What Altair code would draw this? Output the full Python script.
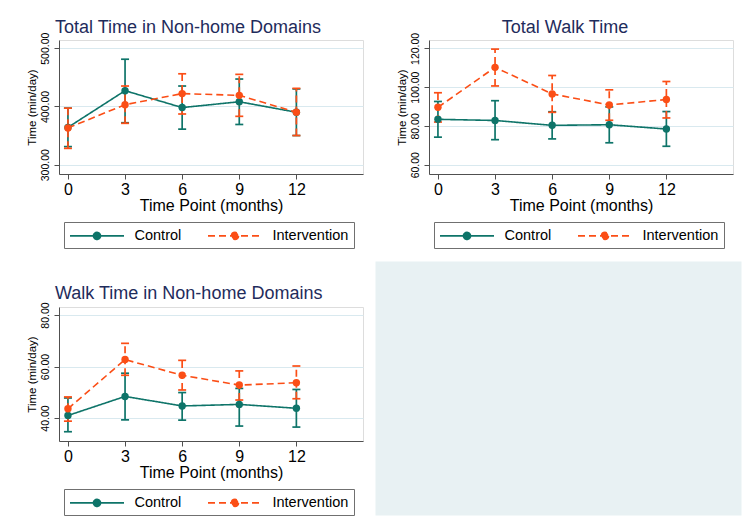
import altair as alt
import pandas as pd

# ---------------- data ----------------
months = [0, 3, 6, 9, 12]
groups = ["Control", "Intervention"]
colors = ["#0e7469", "#fb4e16"]
dashes = [[1, 0], [7, 4]]

titles = ["Total Time in Non-home Domains", "Total Walk Time", "Walk Time in Non-home Domains"]

# Total Time in Non-home Domains
p1_ctrl_mean = [364, 427, 398, 408, 390]
p1_ctrl_lo = [331, 372, 361, 369, 350]
p1_ctrl_hi = [397, 481, 435, 447, 430]
p1_int_mean = [363, 403, 422, 419, 390]
p1_int_lo = [328, 371, 387, 383, 350]
p1_int_hi = [397, 435, 456, 455, 431]
p1_yticks = [300, 400, 500]

# Total Walk Time
p2_ctrl_mean = [83.4, 82.8, 80.3, 80.6, 78.4]
p2_ctrl_lo = [74.2, 72.9, 73.3, 71.3, 69.5]
p2_ctrl_hi = [92.6, 93.0, 87.3, 89.8, 87.4]
p2_int_mean = [89.6, 110.2, 96.5, 90.8, 93.6]
p2_int_lo = [82.0, 100.6, 87.0, 82.9, 84.1]
p2_int_hi = [97.1, 119.6, 106.0, 98.6, 102.9]
p2_yticks = [60, 80, 100, 120]

# Walk Time in Non-home Domains
p3_ctrl_mean = [41.0, 48.4, 44.7, 45.3, 43.8]
p3_ctrl_lo = [34.7, 39.3, 39.2, 36.9, 36.5]
p3_ctrl_hi = [47.8, 57.4, 49.9, 51.5, 51.1]
p3_int_mean = [43.6, 62.7, 56.6, 52.8, 53.7]
p3_int_lo = [38.8, 56.6, 50.9, 47.0, 47.5]
p3_int_hi = [48.2, 69.0, 62.4, 58.3, 60.2]
p3_yticks = [40, 60, 80]

FONT = "Liberation Sans"
TITLE_COLOR = "#1f2c5c"
AXIS_COLOR = "#505050"
GRID_COLOR = "#d9e9ef"
# legend glyph: a line with a dot in the middle (base size 15px; line spans 54px)
LEGEND_SYMBOL = "M-3.6,0H3.6M0.47,0A0.47,0.47,0,1,1,-0.47,0A0.47,0.47,0,1,1,0.47,0Z"


def make_df(cm, cl, ch, im, il, ih):
    rows = []
    for g, m, lo, hi in [("Control", cm, cl, ch), ("Intervention", im, il, ih)]:
        for t, a, b, c in zip(months, m, lo, hi):
            rows.append({"month": t, "group": g, "mean": a, "lo": b, "hi": c})
    return pd.DataFrame(rows)


def panel(df, title, ydomain, yticks):
    xscale = alt.Scale(domain=[-0.47, 15.5], nice=False, zero=False)
    yscale = alt.Scale(domain=ydomain, nice=False, zero=False)
    xaxis = alt.Axis(values=months, title="Time Point (months)", grid=False,
                     labelFontSize=16, titleFontSize=16, labelPadding=2, titlePadding=0,
                     tickSize=5, domainColor=AXIS_COLOR, tickColor=AXIS_COLOR,
                     labelColor="black", titleColor="black", labelFont=FONT, titleFont=FONT,
                     titleFontWeight="normal")
    yaxis = alt.Axis(values=yticks, format=".2f", title="Time (min/day)", grid=True,
                     gridColor=GRID_COLOR, gridWidth=1.2, labelAngle=270, labelFontSize=10.5,
                     titleFontSize=11.5, labelPadding=4, titlePadding=3, tickSize=5,
                     domainColor=AXIS_COLOR, tickColor=AXIS_COLOR, labelColor="black",
                     titleColor="black", labelFont=FONT, titleFont=FONT,
                     titleFontWeight="normal")
    x = alt.X("month:Q", scale=xscale, axis=xaxis)

    def Y(field):
        return alt.Y(field, type="quantitative", scale=yscale, axis=yaxis, title="Time (min/day)")

    layers = []
    for g, col, dsh in zip(groups, colors, dashes):
        base = alt.Chart(df).transform_filter(alt.datum.group == g)
        bars = base.mark_rule(strokeWidth=1.7, color=col, strokeDash=dsh).encode(
            x=x, y=Y("lo"), y2="hi:Q")
        caps_lo = base.mark_tick(orient="horizontal", size=8, thickness=1.7, opacity=1,
                                 color=col).encode(x=x, y=Y("lo"))
        caps_hi = base.mark_tick(orient="horizontal", size=8, thickness=1.7, opacity=1,
                                 color=col).encode(x=x, y=Y("hi"))
        layers += [bars, caps_lo, caps_hi]
    for g, col, dsh in zip(groups, colors, dashes):
        base = alt.Chart(df).transform_filter(alt.datum.group == g)
        line = base.mark_line(strokeWidth=1.6, color=col, strokeDash=dsh).encode(
            x=x, y=Y("mean"))
        pts = base.mark_circle(size=55, opacity=1, color=col).encode(x=x, y=Y("mean"))
        layers += [line, pts]

    legend = alt.Legend(orient="none", legendX=5, legendY=182, direction="horizontal",
                        title=None, symbolType=LEGEND_SYMBOL, symbolSize=225,
                        symbolOffset=19.5, symbolStrokeWidth=1.6, labelFontSize=14.5,
                        labelFont=FONT, labelColor="black", labelOffset=29, columnPadding=22,
                        padding=5, strokeColor="#707070", fillColor="white")
    leg_df = pd.DataFrame({"group": groups, "none": [None, None], "month": [None, None]})
    leg = alt.Chart(leg_df).mark_point(filled=True, opacity=1, shape=LEGEND_SYMBOL).encode(
        x=x, y=Y("none"),
        color=alt.Color("group:N", scale=alt.Scale(domain=groups, range=colors), legend=legend),
        stroke=alt.Stroke("group:N", scale=alt.Scale(domain=groups, range=colors), legend=legend),
        strokeDash=alt.StrokeDash("group:N", scale=alt.Scale(domain=groups, range=dashes),
                                  legend=legend))
    layers.append(leg)

    return alt.layer(*layers).properties(width=304, height=134, title=title)


df1 = make_df(p1_ctrl_mean, p1_ctrl_lo, p1_ctrl_hi, p1_int_mean, p1_int_lo, p1_int_hi)
df2 = make_df(p2_ctrl_mean, p2_ctrl_lo, p2_ctrl_hi, p2_int_mean, p2_int_lo, p2_int_hi)
df3 = make_df(p3_ctrl_mean, p3_ctrl_lo, p3_ctrl_hi, p3_int_mean, p3_int_lo, p3_int_hi)

title_style = dict(fontSize=18, font=FONT, color=TITLE_COLOR, fontWeight="normal", offset=0)
t1 = alt.TitleParams(titles[0], anchor="start", frame="group", dx=-4, dy=5, **title_style)
t2 = alt.TitleParams(titles[1], anchor="middle", frame="group", dx=-16, dy=5, **title_style)
t3 = alt.TitleParams(titles[2], anchor="start", frame="group", dx=-4, dy=1, **title_style)

p1 = panel(df1, t1, [284, 514], p1_yticks)
p2 = panel(df2, t2, [55.2, 124.3], p2_yticks)
p3 = panel(df3, t3, [31.1, 83.1], p3_yticks)

blank_view = alt.ViewBackground(stroke="transparent", strokeWidth=0)
spacer = alt.Chart(pd.DataFrame({"v": [0]})).mark_point(opacity=0).encode(
    x=alt.value(0), y=alt.value(0)).properties(width=304, height=1, view=blank_view)

empty = alt.Chart(pd.DataFrame({"v": [0]})).mark_point(opacity=0).encode(
    x=alt.value(0), y=alt.value(0)).properties(
    width=366, height=254, view=alt.ViewBackground(fill="#e8f1f3", stroke="transparent"))

ind = dict(color="independent", stroke="independent", strokeDash="independent")

row1 = alt.hconcat(p1, p2, spacing=31).resolve_scale(**ind).resolve_legend(**ind)
col3 = alt.vconcat(spacer, p3, spacing=20).resolve_scale(**ind).resolve_legend(**ind)
row2 = alt.hconcat(col3, empty, spacing=7).resolve_scale(**ind).resolve_legend(**ind)

chart = alt.vconcat(row1, row2, spacing=8).resolve_scale(**ind).resolve_legend(**ind).properties(
    padding={"left": 17, "top": 10, "right": 0, "bottom": 0}
).configure_view(stroke="#dce9ee", strokeWidth=1.5).configure(background="white")

chart.save("out.html", embed_options={"renderer": "svg", "actions": False})
